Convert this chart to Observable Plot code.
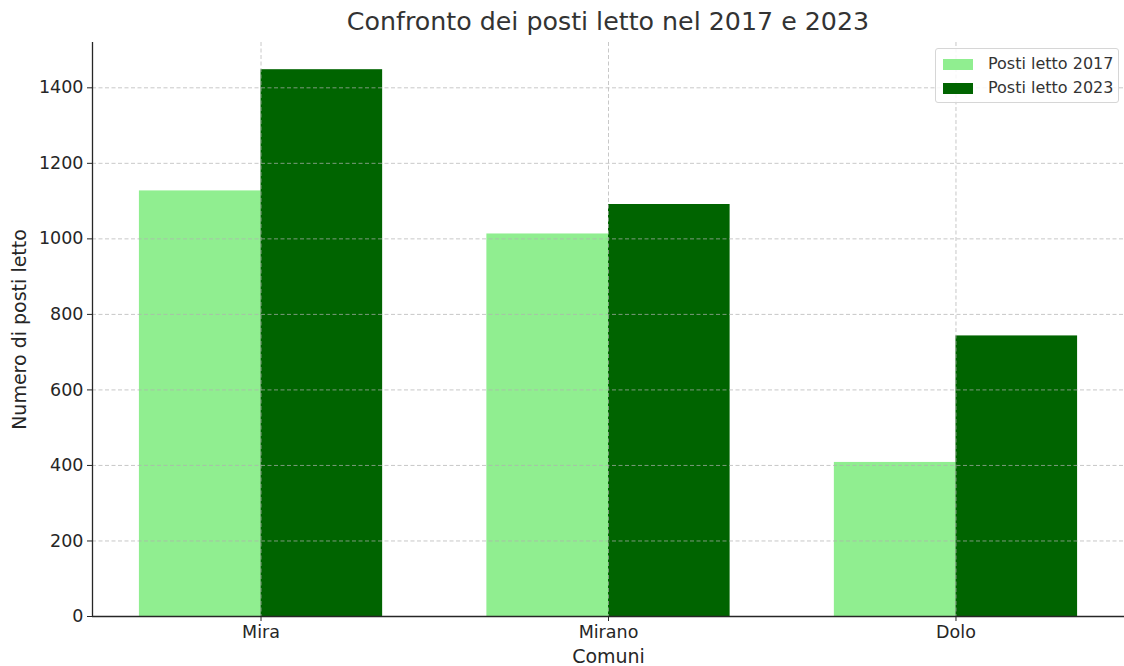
<!DOCTYPE html>
<html>
<head>
<meta charset="utf-8">
<script src="https://cdn.jsdelivr.net/npm/d3@7"></script>
<script src="https://cdn.jsdelivr.net/npm/@observablehq/plot@0.6"></script>
<style>
  body { margin: 0; background: #fff; font-family: "DejaVu Sans", sans-serif; }
  #wrap { position: relative; width: 1124px; height: 666px; }
  #title { position: absolute; left: 92px; width: 1032px; top: 6px; text-align: center; font-size: 25.3px; color: #333; line-height: 32px; }
  #legend { position: absolute; left: 935px; top: 48px; width: 184px; height: 55px; border: 1px solid #d6d6d6; border-radius: 3px; background: rgba(255,255,255,0.85); box-sizing: border-box; }
  .item { position: absolute; left: 7px; font-size: 16px; color: #333; display: flex; align-items: center; line-height: 18px; }
  .sw { width: 30px; height: 11px; margin-right: 15px; }
</style>
</head>
<body>
<div id="wrap">
  <div id="title">Confronto dei posti letto nel 2017 e 2023</div>
  <div id="chart"></div>
  <div id="legend"></div>
</div>
<script>
const comuni = ["Mira", "Mirano", "Dolo"];
const posti2017 = [1127, 1013, 408];
const posti2023 = [1448, 1091, 743];
const serie = ["Posti letto 2017", "Posti letto 2023"];
const colori = ["#90ee90", "#006400"];
const yTicks = [0, 200, 400, 600, 800, 1000, 1200, 1400];

const barW = 0.35;
const xMin = -0.485, xMax = 2.485;
const data = [];
comuni.forEach((c, i) => {
  data.push({comune: c, i, serie: serie[0], value: posti2017[i], off: -barW});
  data.push({comune: c, i, serie: serie[1], value: posti2023[i], off: 0});
});

const gridStyle = {stroke: "#b0b0b0", strokeOpacity: 0.7, strokeDasharray: "4,2.5"};

const chart = Plot.plot({
  width: 1124,
  height: 666,
  marginTop: 42,
  marginBottom: 50,
  marginLeft: 92,
  marginRight: 0,
  style: {fontFamily: "DejaVu Sans, sans-serif", color: "#262626", background: "#fff"},
  x: {type: "linear", domain: [xMin, xMax]},
  y: {domain: [0, 1520]},
  color: {domain: serie, range: colori},
  marks: [
    Plot.rectY(data, {x1: d => d.i + d.off, x2: d => d.i + d.off + barW, y1: 0, y2: "value", fill: "serie"}),
    Plot.gridY(yTicks.slice(1), gridStyle),
    Plot.gridX([0, 1, 2], gridStyle),
    Plot.axisY(yTicks, {tickSize: 5, tickPadding: 4, fontSize: 17.5, tickFormat: d => String(d), label: "Numero di posti letto", labelAnchor: "center", labelOffset: 80, labelArrow: "none", stroke: "#262626"}),
    Plot.axisX([0, 1, 2], {tickSize: 5, tickPadding: 4, fontSize: 17.5, tickFormat: i => comuni[i], label: null, stroke: "#262626"}),
    Plot.text(["Comuni"], {frameAnchor: "bottom", dy: 46, fontSize: 19, fill: "#262626"}),
    Plot.ruleY([0], {stroke: "#262626", strokeWidth: 1.3}),
    Plot.ruleX([xMin], {stroke: "#262626", strokeWidth: 1.3})
  ]
});
document.getElementById("chart").appendChild(chart);

// enlarge the y-axis label font
chart.querySelectorAll("g[aria-label='y-axis label'] text").forEach(t => t.setAttribute("font-size", "19"));

const legend = document.getElementById("legend");
serie.forEach((s, k) => {
  const it = document.createElement("div");
  it.className = "item";
  it.style.top = (6 + k * 24) + "px";
  it.innerHTML = `<span class="sw" style="background:${colori[k]}"></span><span>${s}</span>`;
  legend.appendChild(it);
});
</script>
</body>
</html>
